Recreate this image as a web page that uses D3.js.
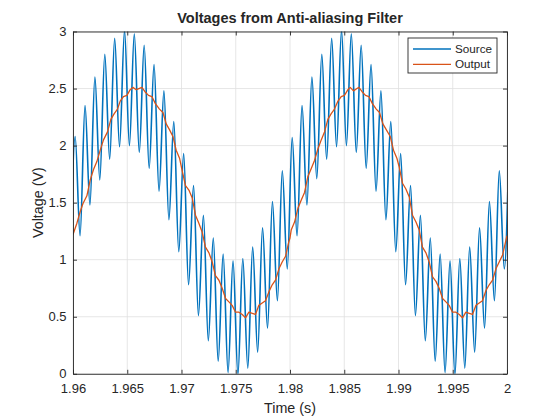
<!DOCTYPE html>
<html>
<head>
<meta charset="utf-8">
<script src="https://cdn.jsdelivr.net/npm/d3@7"></script>
<style>
body { margin: 0; background: #fff; }
text { font-family: "Liberation Sans", Arial, Helvetica, sans-serif; fill: #262626; }
</style>
</head>
<body>
<script>
var w = 560;
var h = 420;

// source voltage, read at each ripple peak / trough
var sourceT = [1.95975, 1.96020, 1.96065, 1.96111, 1.96156, 1.96202, 1.96247, 1.96293, 1.96338, 1.96384,
    1.96429, 1.96475, 1.96520, 1.96565, 1.96611, 1.96656, 1.96702, 1.96747, 1.96793, 1.96838,
    1.96884, 1.96929, 1.96975, 1.97020, 1.97065, 1.97111, 1.97156, 1.97202, 1.97247, 1.97293,
    1.97338, 1.97384, 1.97429, 1.97475, 1.97520, 1.97565, 1.97611, 1.97656, 1.97702, 1.97747,
    1.97793, 1.97838, 1.97884, 1.97929, 1.97975, 1.98020, 1.98065, 1.98111, 1.98156, 1.98202,
    1.98247, 1.98293, 1.98338, 1.98384, 1.98429, 1.98475, 1.98520, 1.98565, 1.98611, 1.98656,
    1.98702, 1.98747, 1.98793, 1.98838, 1.98884, 1.98929, 1.98975, 1.99020, 1.99065, 1.99111,
    1.99156, 1.99202, 1.99247, 1.99293, 1.99338, 1.99384, 1.99429, 1.99475, 1.99520, 1.99565,
    1.99611, 1.99656, 1.99702, 1.99747, 1.99793, 1.99838, 1.99884, 1.99929, 1.99975, 2.00020];
var sourceV = [0.92, 2.08, 1.21, 2.35, 1.48, 2.60, 1.70, 2.80, 1.88, 2.94,
    1.99, 3.01, 2.00, 2.98, 1.94, 2.88, 1.80, 2.71, 1.60, 2.48,
    1.35, 2.21, 1.07, 1.93, 0.78, 1.65, 0.51, 1.39, 0.29, 1.19,
    0.11, 1.05, 0.01, 0.99, -0.01, 1.01, 0.05, 1.11, 0.19, 1.28,
    0.40, 1.51, 0.64, 1.78, 0.92, 2.07, 1.21, 2.35, 1.48, 2.60,
    1.71, 2.80, 1.88, 2.94, 1.99, 3.01, 2.00, 2.98, 1.94, 2.88,
    1.80, 2.71, 1.60, 2.48, 1.35, 2.21, 1.07, 1.93, 0.78, 1.65,
    0.51, 1.39, 0.29, 1.19, 0.11, 1.05, 0.01, 0.99, -0.01, 1.01,
    0.05, 1.11, 0.19, 1.28, 0.40, 1.51, 0.64, 1.78, 0.92, 2.08];

// filter output
var outputT = [1.96000, 1.96036, 1.96066, 1.96091, 1.96128, 1.96159, 1.96189, 1.96220, 1.96251, 1.96281,
    1.96318, 1.96349, 1.96380, 1.96410, 1.96435, 1.96465, 1.96497, 1.96527, 1.96552, 1.96583,
    1.96607, 1.96635, 1.96665, 1.96696, 1.96727, 1.96758, 1.96797, 1.96829, 1.96859, 1.96889,
    1.96921, 1.96951, 1.96982,
    1.97006, 1.97037, 1.97068, 1.97099, 1.97129, 1.97160, 1.97191, 1.97221, 1.97253, 1.97283,
    1.97313, 1.97345, 1.97375, 1.97406, 1.97437, 1.97467, 1.97498, 1.97529, 1.97560, 1.97590,
    1.97621, 1.97652, 1.97682, 1.97713, 1.97744, 1.97774, 1.97806, 1.97836, 1.97866, 1.97898,
    1.97928, 1.97959, 1.97990, 1.98000,
    1.98011, 1.98042, 1.98073, 1.98103, 1.98134, 1.98165, 1.98196, 1.98226, 1.98257, 1.98288,
    1.98318, 1.98349, 1.98380, 1.98410, 1.98442, 1.98472, 1.98502, 1.98534, 1.98555, 1.98585,
    1.98617, 1.98635, 1.98666, 1.98696, 1.98727, 1.98758, 1.98795, 1.98825, 1.98856, 1.98887,
    1.98924, 1.98954, 1.98985,
    1.99007, 1.99037, 1.99068, 1.99099, 1.99129, 1.99161, 1.99191, 1.99221, 1.99253, 1.99283,
    1.99314, 1.99345, 1.99375, 1.99406, 1.99437, 1.99467, 1.99498, 1.99529, 1.99560, 1.99590,
    1.99621, 1.99652, 1.99682, 1.99714, 1.99744, 1.99774, 1.99806, 1.99836, 1.99867, 1.99898,
    1.99928, 1.99959, 1.99990, 2.00000];
var outputV = [1.22, 1.32, 1.42, 1.49, 1.56, 1.70, 1.79, 1.86, 1.96, 2.05,
    2.12, 2.23, 2.28, 2.32, 2.39, 2.43, 2.44, 2.49, 2.51, 2.49,
    2.50, 2.51, 2.47, 2.44, 2.43, 2.37, 2.32, 2.29, 2.19, 2.14,
    2.08, 1.96, 1.89,
    1.78, 1.65, 1.61, 1.54, 1.39, 1.32, 1.24, 1.11, 1.06, 0.98,
    0.86, 0.82, 0.75, 0.66, 0.63, 0.60, 0.54, 0.54, 0.52, 0.49,
    0.54, 0.53, 0.52, 0.60, 0.62, 0.64, 0.72, 0.78, 0.82, 0.92,
    0.98, 1.03, 1.16, 1.19,
    1.26, 1.33, 1.45, 1.52, 1.59, 1.73, 1.80, 1.87, 1.97, 2.05,
    2.12, 2.23, 2.28, 2.32, 2.39, 2.43, 2.44, 2.49, 2.51, 2.48,
    2.50, 2.51, 2.47, 2.44, 2.43, 2.37, 2.32, 2.29, 2.19, 2.14,
    2.08, 1.96, 1.89,
    1.81, 1.67, 1.62, 1.55, 1.39, 1.33, 1.26, 1.11, 1.06, 0.98,
    0.85, 0.81, 0.75, 0.66, 0.63, 0.60, 0.54, 0.54, 0.52, 0.49,
    0.54, 0.53, 0.52, 0.60, 0.62, 0.64, 0.73, 0.78, 0.82, 0.92,
    0.98, 1.04, 1.17, 1.21];

var xTicks = [1.96, 1.965, 1.97, 1.975, 1.98, 1.985, 1.99, 1.995, 2];
var xTickLabels = ["1.96", "1.965", "1.97", "1.975", "1.98", "1.985", "1.99", "1.995", "2"];
var yTicks = [0, 0.5, 1, 1.5, 2, 2.5, 3];
var yTickLabels = ["0", "0.5", "1", "1.5", "2", "2.5", "3"];
var seriesNames = ["Source", "Output"];
var seriesColors = ["#0072bd", "#d95319"];

var ml = 73, mt = 31.5, pw = 434, ph = 342.3;

var svg = d3.select("body")
    .append("svg")
    .attr("width", w)
    .attr("height", h);

var x = d3.scaleLinear().domain([1.96, 2]).range([ml, ml + pw]);
var y = d3.scaleLinear().domain([0, 3]).range([mt + ph, mt]);

svg.append("defs").append("clipPath")
    .attr("id", "plotclip")
    .append("rect")
    .attr("x", ml).attr("y", mt)
    .attr("width", pw).attr("height", ph);

// grid
var grid = svg.append("g").attr("stroke", "#dfdfdf").attr("stroke-width", 0.8);
grid.selectAll(".gx").data(xTicks).enter().append("line")
    .attr("x1", function(d) { return x(d); })
    .attr("x2", function(d) { return x(d); })
    .attr("y1", mt).attr("y2", mt + ph);
grid.selectAll(".gy").data(yTicks).enter().append("line")
    .attr("y1", function(d) { return y(d); })
    .attr("y2", function(d) { return y(d); })
    .attr("x1", ml).attr("x2", ml + pw);

// lines
var sourceData = sourceT.map(function(t, i) { return [t, sourceV[i]]; });
var outputData = outputT.map(function(t, i) { return [t, outputV[i]]; });

var plot = svg.append("g").attr("clip-path", "url(#plotclip)");

plot.append("path")
    .attr("d", d3.line()
        .x(function(d) { return x(d[0]); })
        .y(function(d) { return y(d[1]); })
        .curve(d3.curveMonotoneX)(sourceData))
    .attr("fill", "none")
    .attr("stroke", seriesColors[0])
    .attr("stroke-width", 1.6);

plot.append("path")
    .attr("d", d3.line()
        .x(function(d) { return x(d[0]); })
        .y(function(d) { return y(d[1]); })(outputData))
    .attr("fill", "none")
    .attr("stroke", seriesColors[1])
    .attr("stroke-width", 1.3)
    .attr("stroke-linejoin", "round");

// axes (box with inward ticks)
function styleAxis(g) {
    g.selectAll(".domain").attr("stroke", "#262626").attr("stroke-width", 0.9);
    g.selectAll(".tick line").attr("stroke", "#262626").attr("stroke-width", 0.9);
    g.selectAll("text").attr("fill", "#262626")
        .style("font-family", "'Liberation Sans', Arial, sans-serif")
        .style("font-size", "13px");
}

svg.append("g")
    .attr("transform", "translate(0," + (mt + ph) + ")")
    .call(d3.axisBottom(x).tickValues(xTicks)
        .tickFormat(function(d, i) { return xTickLabels[i]; })
        .tickSizeInner(-4).tickSizeOuter(0).tickPadding(9.5))
    .call(styleAxis);

svg.append("g")
    .attr("transform", "translate(0," + mt + ")")
    .call(d3.axisTop(x).tickValues(xTicks).tickFormat("")
        .tickSizeInner(-4).tickSizeOuter(0))
    .call(styleAxis);

svg.append("g")
    .attr("transform", "translate(" + ml + ",0)")
    .call(d3.axisLeft(y).tickValues(yTicks)
        .tickFormat(function(d, i) { return yTickLabels[i]; })
        .tickSizeInner(-4).tickSizeOuter(0).tickPadding(6.5))
    .call(styleAxis);

svg.append("g")
    .attr("transform", "translate(" + (ml + pw) + ",0)")
    .call(d3.axisRight(y).tickValues(yTicks).tickFormat("")
        .tickSizeInner(-4).tickSizeOuter(0))
    .call(styleAxis);

// labels
svg.append("text")
    .attr("x", ml + pw / 2).attr("y", 23)
    .attr("text-anchor", "middle")
    .style("font-size", "14.5px")
    .style("font-weight", "bold")
    .text("Voltages from Anti-aliasing Filter");

svg.append("text")
    .attr("x", ml + pw / 2).attr("y", 412.5)
    .attr("text-anchor", "middle")
    .style("font-size", "14.3px")
    .text("Time (s)");

svg.append("text")
    .attr("transform", "translate(43," + (mt + ph / 2) + ") rotate(-90)")
    .attr("text-anchor", "middle")
    .style("font-size", "14.3px")
    .text("Voltage (V)");

// legend
var legend = svg.append("g").attr("transform", "translate(408,38)");
legend.append("rect")
    .attr("width", 89).attr("height", 35)
    .attr("fill", "#fff")
    .attr("stroke", "#262626")
    .attr("stroke-width", 0.9);

var items = legend.selectAll(".item").data(seriesNames).enter().append("g")
    .attr("transform", function(d, i) { return "translate(0," + (11 + i * 15.3) + ")"; });
items.append("line")
    .attr("x1", 5).attr("x2", 43)
    .attr("stroke", function(d, i) { return seriesColors[i]; })
    .attr("stroke-width", 1.3);
items.append("text")
    .attr("x", 47).attr("dy", "0.35em")
    .style("font-size", "11.7px")
    .text(function(d) { return d; });
</script>
</body>
</html>
